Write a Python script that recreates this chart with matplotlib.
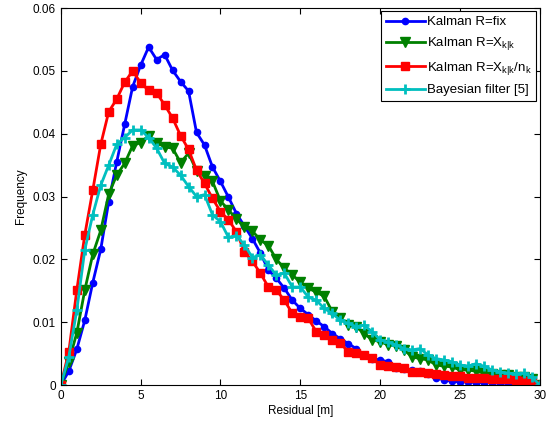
import numpy as np
import matplotlib.pyplot as plt

plt.rcParams['font.family'] = ['Liberation Sans', 'DejaVu Sans']
plt.rcParams['mathtext.fontset'] = 'custom'
plt.rcParams['mathtext.rm'] = 'Liberation Sans'
plt.rcParams['mathtext.it'] = 'Liberation Sans'

residual = np.arange(0, 30.01, 0.5)

kalman_fix = [0, 0.0022, 0.0057, 0.0103, 0.0163, 0.0216, 0.0292, 0.0355, 0.0415, 0.0475,
              0.0509, 0.0538, 0.0518, 0.0526, 0.0501, 0.0483, 0.0468, 0.0402, 0.0382, 0.0347,
              0.0324, 0.0299, 0.0273, 0.0253, 0.0233, 0.0210, 0.0183, 0.0170, 0.0154, 0.0135,
              0.0122, 0.0112, 0.0102, 0.0093, 0.0082, 0.0074, 0.0066, 0.0058, 0.0048, 0.0042,
              0.0040, 0.0037, 0.0027, 0.0026, 0.0024, 0.0022, 0.0018, 0.0012, 0.0008, 0.0006,
              0.0005, 0.0005, 0.0004, 0.0004, 0.0004, 0.0003, 0.0003, 0.0003, 0.0002, 0.0002, 0]

kalman_xkk = [0, 0.0037, 0.0083, 0.0151, 0.0208, 0.0246, 0.0304, 0.0334, 0.0353, 0.0381,
              0.0386, 0.0397, 0.0386, 0.0379, 0.0377, 0.0354, 0.0369, 0.0341, 0.0333, 0.0324,
              0.0293, 0.0279, 0.0264, 0.0252, 0.0245, 0.0231, 0.0222, 0.0200, 0.0186, 0.0175,
              0.0164, 0.0154, 0.0148, 0.0141, 0.0117, 0.0106, 0.0095, 0.0093, 0.0082, 0.0072,
              0.0069, 0.0064, 0.0062, 0.0056, 0.0045, 0.0042, 0.0040, 0.0032, 0.0030, 0.0029,
              0.0024, 0.0024, 0.0022, 0.0019, 0.0018, 0.0016, 0.0016, 0.0013, 0.0013, 0.0010, 0]

kalman_xkk_n = [0, 0.0053, 0.0151, 0.0239, 0.0310, 0.0383, 0.0435, 0.0455, 0.0482, 0.0500,
                0.0481, 0.0469, 0.0465, 0.0446, 0.0425, 0.0397, 0.0375, 0.0342, 0.0321, 0.0297,
                0.0276, 0.0263, 0.0244, 0.0212, 0.0197, 0.0178, 0.0156, 0.0151, 0.0135, 0.0114,
                0.0109, 0.0106, 0.0085, 0.0080, 0.0072, 0.0067, 0.0053, 0.0051, 0.0048, 0.0043,
                0.0032, 0.0030, 0.0029, 0.0027, 0.0021, 0.0021, 0.0019, 0.0017, 0.0016, 0.0014,
                0.0014, 0.0012, 0.0011, 0.0011, 0.0010, 0.0009, 0.0009, 0.0008, 0.0007, 0.0006, 0]

bayesian = [0, 0.0045, 0.0119, 0.0215, 0.0271, 0.0318, 0.0350, 0.0383, 0.0394, 0.0406,
            0.0406, 0.0394, 0.0377, 0.0353, 0.0347, 0.0334, 0.0316, 0.0300, 0.0303, 0.0271,
            0.0260, 0.0235, 0.0238, 0.0223, 0.0203, 0.0207, 0.0191, 0.0175, 0.0178, 0.0156,
            0.0156, 0.0140, 0.0135, 0.0122, 0.0114, 0.0103, 0.0098, 0.0093, 0.0095, 0.0085,
            0.0072, 0.0068, 0.0064, 0.0058, 0.0056, 0.0058, 0.0048, 0.0042, 0.0040, 0.0037,
            0.0032, 0.0030, 0.0034, 0.0030, 0.0024, 0.0021, 0.0019, 0.0018, 0.0019, 0.0013, 0]

fig = plt.figure(figsize=(5.48, 4.25), dpi=100)
ax = fig.add_axes([0.111, 0.094, 0.874, 0.887])

ax.plot(residual, kalman_fix, '-o', color='#0000ff', lw=2, ms=4.5,
        label='Kalman R=fix')
ax.plot(residual, kalman_xkk, '-v', color='#008000', lw=2, ms=7,
        label=r'Kalman R=X$_{k|k}$')
ax.plot(residual, kalman_xkk_n, '-s', color='#ff0000', lw=2, ms=6,
        label=r'Kalman R=X$_{k|k}$/n$_k$')
ax.plot(residual, bayesian, '-+', color='#00bfbf', lw=2, ms=6.5, mew=2,
        label='Bayesian filter [5]')

ax.set_xlim(0, 30)
ax.set_ylim(0, 0.06)
ax.set_xticks(np.arange(0, 31, 5))
ax.set_yticks(np.arange(0, 0.061, 0.01))
ax.set_yticklabels(['0', '0.01', '0.02', '0.03', '0.04', '0.05', '0.06'])
ax.tick_params(direction='in', top=True, right=True, labelsize=8.5, length=4)
ax.set_xlabel('Residual [m]', fontsize=8.5, labelpad=2)
ax.set_ylabel('Frequency', fontsize=8.5, labelpad=4)

leg = ax.legend(loc='upper right', fontsize=9.5, fancybox=False, framealpha=1,
                edgecolor='black', borderaxespad=0.25, handlelength=3.0,
                handletextpad=0.15, labelspacing=0.55, borderpad=0.35)
leg.get_frame().set_linewidth(0.8)

fig.savefig('out.png', dpi=100)
